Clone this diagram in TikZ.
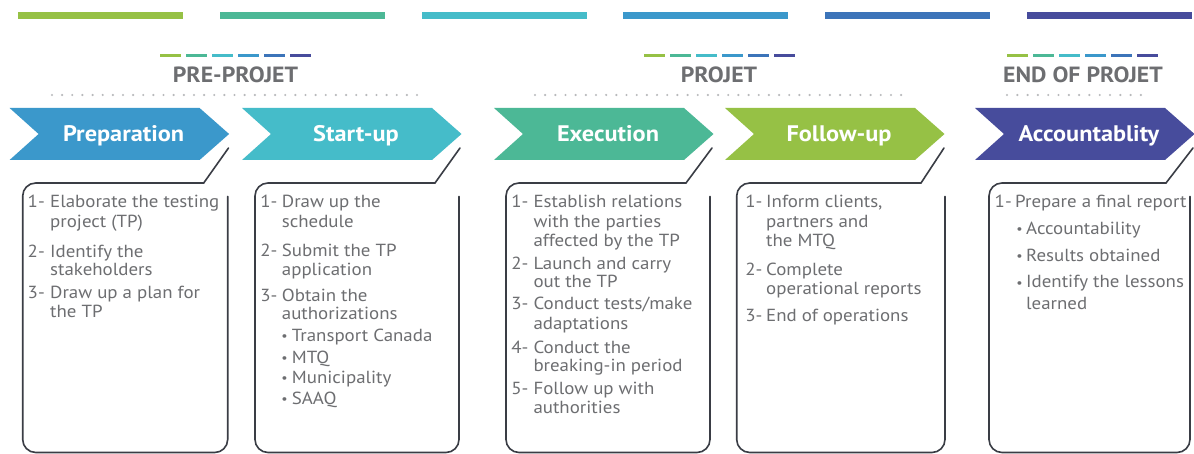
\documentclass[tikz,border=0pt]{standalone}
\usepackage{fontspec}
\setmainfont{PT Sans}[FakeStretch=1.08]
\definecolor{cg}{HTML}{96C145}
\definecolor{ct}{HTML}{4CB896}
\definecolor{cc}{HTML}{45BCC9}
\definecolor{cb}{HTML}{3B98CB}
\definecolor{cd}{HTML}{3C74B9}
\definecolor{ci}{HTML}{474C9C}
\definecolor{txtgray}{HTML}{6D6E71}
\definecolor{linec}{HTML}{3A3D45}
\definecolor{dotc}{HTML}{B8B9BB}
\newcommand\chev[4]{%
  \fill[#2] (#1,108) -- ++(190,0) -- ++(29.5,26) -- ++(-29.5,26) -- ++(-190,0) -- ++(29,-26) -- cycle;
  \node[chevtext] (#3) at (#1+114,142) {#4};}
\newcommand\tpbox[3]{%
  \draw[boxline] (#3,148) -- (#2-24,183);
  \draw[boxline,rounded corners=13pt] (#2-24,183) -- (#1,183) -- (#1,452.5) -- (#2,452.5) -- (#2,196.5);}
\newcommand\bodyline[4]{\node[bodytext] (#1) at (#2,#3) {#4};}
\newcommand\numline[4]{\node[bodytext] (#1) at (#2-1.5,#3) {#4};}
\newcommand\bulletline[4]{\node[bulletdot] (#1) at (#2-0.5,#3) {\raisebox{1pt}{•}};}
\newcommand\dashrow[1]{\foreach \c [count=\k from 0] in {cg,ct,cc,cb,cd,ci} \fill[\c] (#1+\k*26,54.5) rectangle ++(21,3);}
\newcommand\dotrow[3]{\foreach \i in {0,...,#3} \fill[dotc] (#1+\i*#2,95) circle (1.2pt);}
\begin{document}
\begin{tikzpicture}[x=1pt,y=-1pt,
  chevtext/.style={anchor=base,inner sep=0pt,text=white,font=\fontsize{22.5}{22.5}\selectfont\bfseries},
  headtext/.style={anchor=base,inner sep=0pt,text=txtgray,font=\fontsize{22}{22}\selectfont\bfseries},
  bodytext/.style={anchor=base west,inner sep=0pt,text=txtgray,font=\fontsize{17.5}{17.5}\selectfont},
  bulletdot/.style={anchor=base west,inner sep=0pt,text=txtgray,font=\fontsize{13}{13}\selectfont},
  boxline/.style={draw=linec,line width=1.6pt,line cap=round}]
\useasboundingbox (0,0) rectangle (1194,454);
\fill[white] (0,0) rectangle (1194,454);
% top bars
\foreach \c [count=\k from 0] in {cg,ct,cc,cb,cd,ci} \fill[\c] (18+\k*201.8,12) rectangle ++(165,7);
% headers
\dashrow{160}
\dashrow{644}
\dashrow{1006.5}
\node[headtext] (hpre) at (235.5,83) {PRE-PROJET};
\node[headtext] (hproj) at (719,83) {PROJET};
\node[headtext] (hend) at (1083,83) {END OF PROJET};
\dotrow{52}{10.14}{36}
\dotrow{535}{10.17}{36}
\dotrow{1007}{10.3}{13}
% chevrons
\chev{9.6}{cb}{prep}{Preparation}
\chev{242}{cc}{start}{Start-up}
\chev{494}{ct}{exec}{Execution}
\chev{725}{cg}{follow}{Follow-up}
\chev{975}{ci}{acc}{Accountablity}
% boxes
\tpbox{22.7}{227.7}{228.5}
\tpbox{255}{459}{460}
\tpbox{506}{710}{712}
\tpbox{736.7}{945}{944}
\tpbox{989}{1190}{1193}
% box 1
\numline{a1n}{29}{208}{1-}
\bodyline{a1a}{50}{208}{Elaborate the testing}
\bodyline{a1b}{50}{228}{project (TP)}
\numline{a2n}{29}{258}{2-}
\bodyline{a2a}{50}{258}{Identify the}
\bodyline{a2b}{50}{276}{stakeholders}
\numline{a3n}{29}{299}{3-}
\bodyline{a3a}{50}{299}{Draw up a plan for}
\bodyline{a3b}{50}{317}{the TP}
% box 2
\numline{b1n}{261.7}{208}{1-}
\bodyline{b1a}{281.7}{208}{Draw up the}
\bodyline{b1b}{281.7}{228}{schedule}
\numline{b2n}{261.7}{256.5}{2-}
\bodyline{b2a}{281.7}{256.5}{Submit the TP}
\bodyline{b2b}{281.7}{275.5}{application}
\numline{b3n}{261.7}{301.5}{3-}
\bodyline{b3a}{281.7}{301.5}{Obtain the}
\bodyline{b3b}{281.7}{319.5}{authorizations}
\bulletline{b4d}{281.7}{341.5}{}
\bodyline{b4a}{291.7}{341.5}{Transport Canada}
\bulletline{b5d}{281.7}{363}{}
\bodyline{b5a}{291.7}{363}{MTQ}
\bulletline{b6d}{281.7}{383}{}
\bodyline{b6a}{291.7}{383}{Municipality}
\bulletline{b7d}{281.7}{404.5}{}
\bodyline{b7a}{291.7}{404.5}{SAAQ}
% box 3
\numline{c1n}{512.7}{208}{1-}
\bodyline{c1a}{533.3}{208}{Establish relations}
\bodyline{c1b}{533.3}{228}{with the parties}
\bodyline{c1c}{533.3}{246.5}{affected by the TP}
\numline{c2n}{512.7}{269.5}{2-}
\bodyline{c2a}{533.3}{269.5}{Launch and carry}
\bodyline{c2b}{533.3}{288}{out the TP}
\numline{c3n}{512.7}{309.5}{3-}
\bodyline{c3a}{533.3}{309.5}{Conduct tests/make}
\bodyline{c3b}{533.3}{329.5}{adaptations}
\numline{c4n}{512.7}{353}{4-}
\bodyline{c4a}{533.3}{353}{Conduct the}
\bodyline{c4b}{533.3}{371.5}{breaking-in period}
\numline{c5n}{512.7}{394.5}{5-}
\bodyline{c5a}{533.3}{394.5}{Follow up with}
\bodyline{c5b}{533.3}{413}{authorities}
% box 4
\numline{d1n}{746.7}{208}{1-}
\bodyline{d1a}{766}{208}{Inform clients,}
\bodyline{d1b}{766}{228}{partners and}
\bodyline{d1c}{766}{246.5}{the MTQ}
\numline{d2n}{746.7}{275.5}{2-}
\bodyline{d2a}{766}{275.5}{Complete}
\bodyline{d2b}{766}{294.5}{operational reports}
\numline{d3n}{746.7}{321.5}{3-}
\bodyline{d3a}{766}{321.5}{End of operations}
% box 5
\numline{e1n}{996}{208}{1-}
\bodyline{e1a}{1015}{208}{Prepare a final report}
\bulletline{e2d}{1016.7}{234.5}{}
\bodyline{e2a}{1026}{234.5}{Accountability}
\bulletline{e3d}{1016.7}{261.5}{}
\bodyline{e3a}{1026}{261.5}{Results obtained}
\bulletline{e4d}{1016.7}{288}{}
\bodyline{e4a}{1026}{288}{Identify the lessons}
\bodyline{e4b}{1026}{309.5}{learned}
\end{tikzpicture}
\end{document}
